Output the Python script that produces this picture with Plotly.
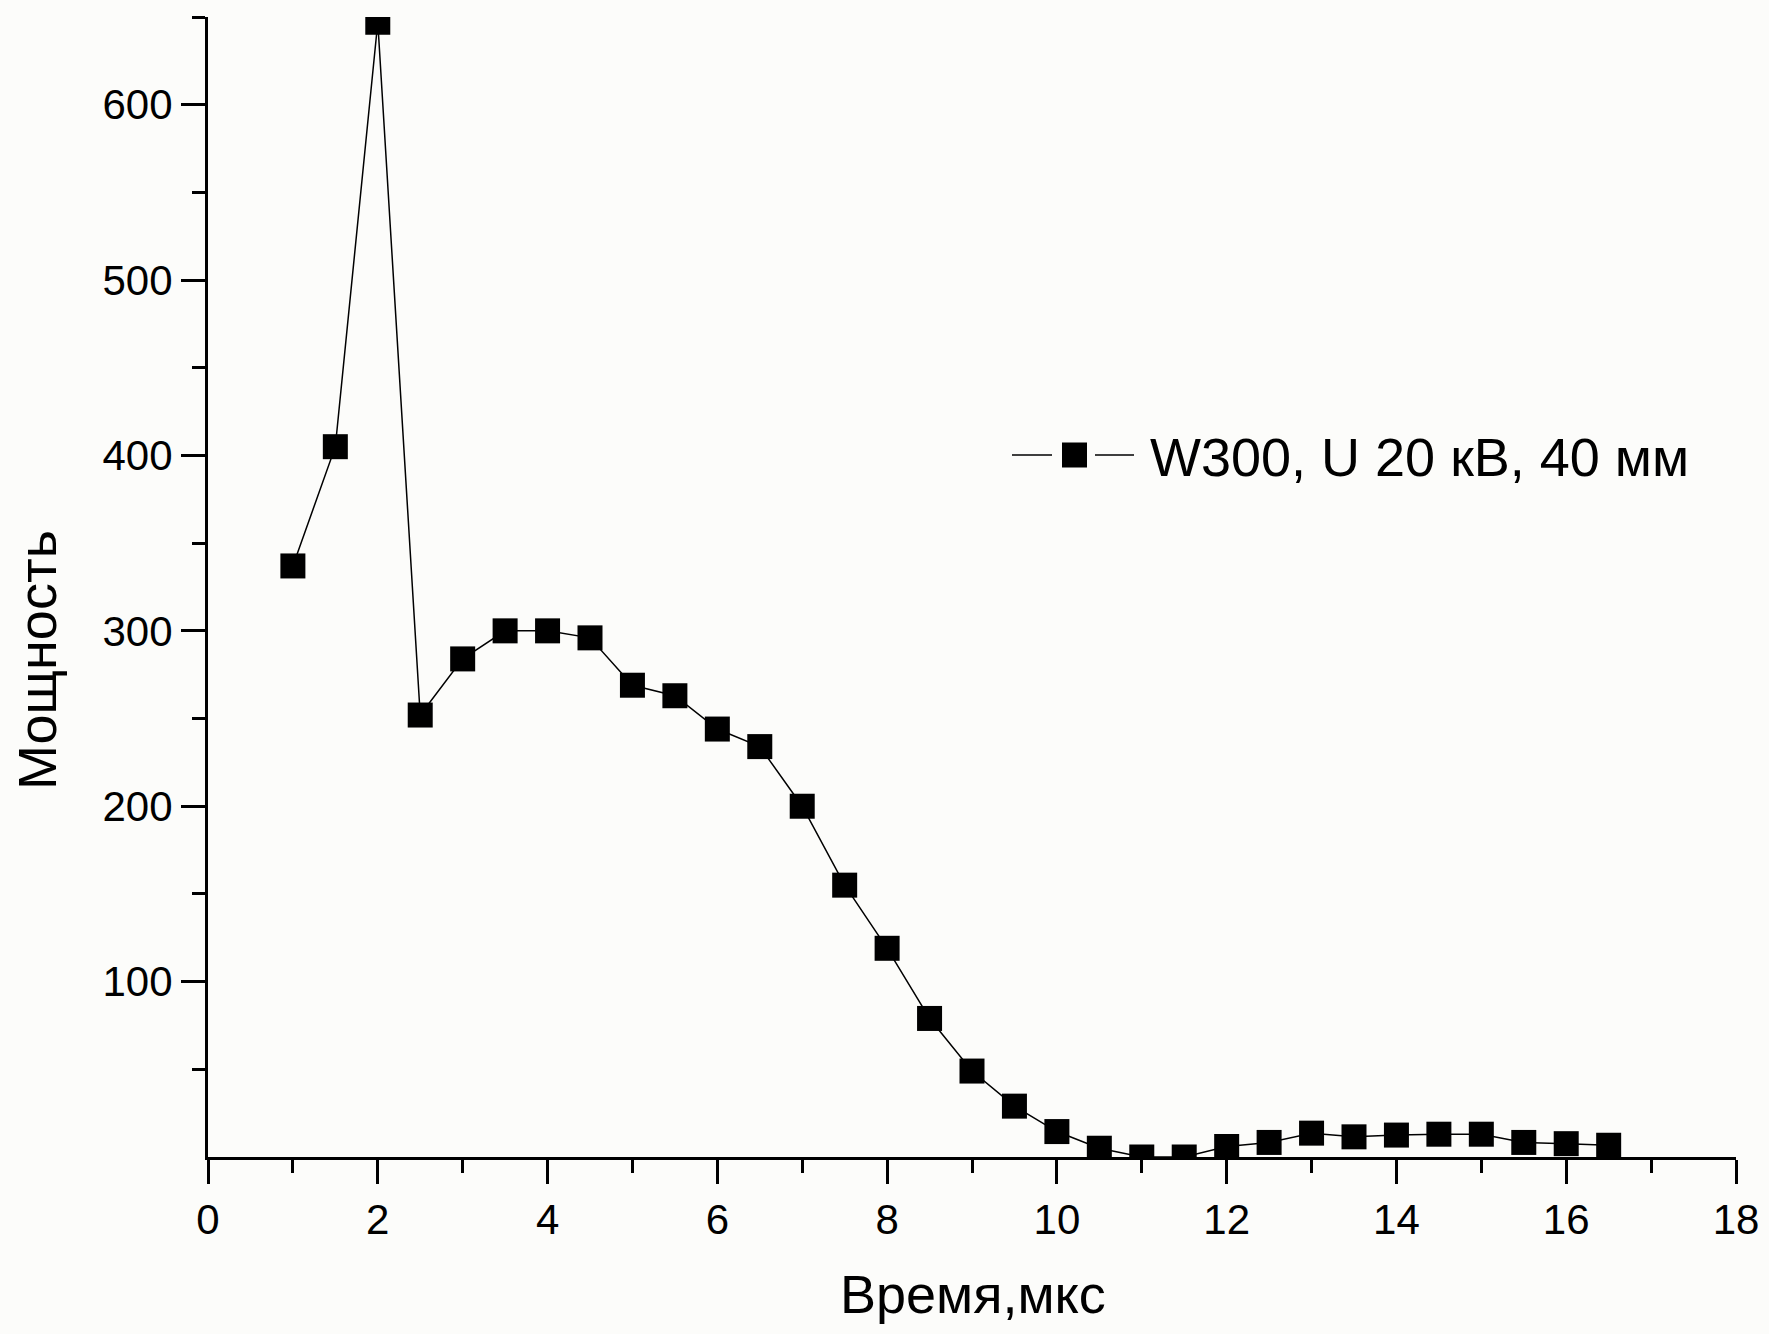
import plotly.graph_objects as go

# Data
time_us = [1, 1.5, 2, 2.5, 3, 3.5, 4, 4.5, 5, 5.5, 6, 6.5, 7, 7.5, 8, 8.5, 9, 9.5,
           10, 10.5, 11, 11.5, 12, 12.5, 13, 13.5, 14, 14.5, 15, 15.5, 16, 16.5]
power = [337, 405, 647, 252, 284, 300, 300, 296, 269, 263, 244, 234, 200, 155, 119, 79, 49, 29,
         14.5, 5, 0, 0, 6, 8.3, 13.6, 11.5, 12.5, 13, 13, 8.3, 7.6, 6.7]

series_name = "W300, U 20 кВ, 40 мм"
x_title = "Время,мкс"
y_title = "Мощность"

x_major = [0, 2, 4, 6, 8, 10, 12, 14, 16, 18]
x_minor = [1, 3, 5, 7, 9, 11, 13, 15, 17]
y_major = [100, 200, 300, 400, 500, 600]
y_minor = [50, 150, 250, 350, 450, 550, 650]

FONT = "Liberation Sans, Arial, sans-serif"
BG = "#fcfcfa"

W, H = 1769, 1334
L, R, T, B = 208, 33, 17, 177
pw, ph = W - L - R, H - T - B


def px_x(p):
    return (p - L) / pw


def px_y(p):
    return (H - B - p) / ph


fig = go.Figure()
fig.add_trace(go.Scatter(
    x=time_us, y=power, mode="lines+markers", name=series_name,
    line=dict(color="black", width=1.5),
    marker=dict(symbol="square", size=25, color="black"),
    showlegend=False,
))

axis_common = dict(
    showgrid=False, zeroline=False, showline=True, linecolor="black", linewidth=3,
    ticks="outside", tickcolor="black", tickwidth=3, ticklen=24,
    tickfont=dict(family=FONT, size=42, color="black"),
    mirror=False, automargin=False,
)

fig.update_xaxes(
    range=[0, 18], tickmode="array", tickvals=x_major,
    ticktext=[str(v) for v in x_major],
    minor=dict(tickmode="array", tickvals=x_minor, ticks="outside", ticklen=13,
               tickwidth=3, tickcolor="black"),
    **axis_common,
)
fig.update_yaxes(
    range=[0, 650], tickmode="array", tickvals=y_major,
    ticktext=[str(v) for v in y_major],
    minor=dict(tickmode="array", tickvals=y_minor, ticks="outside", ticklen=13,
               tickwidth=3, tickcolor="black"),
    **axis_common,
)

fig.add_annotation(
    text=y_title, xref="paper", yref="paper",
    x=px_x(37), y=px_y(660),
    showarrow=False, textangle=-90, xanchor="center", yanchor="middle",
    font=dict(family=FONT, size=54, color="black"),
)
fig.add_annotation(
    text=x_title, xref="paper", yref="paper",
    x=px_x(973), y=px_y(1294),
    showarrow=False, xanchor="center", yanchor="middle",
    font=dict(family=FONT, size=54, color="black"),
)

# Legend (Origin style: line - square - line, then label)
leg_y = 455
fig.add_shape(type="line", xref="paper", yref="paper",
              x0=px_x(1012), x1=px_x(1052), y0=px_y(leg_y), y1=px_y(leg_y),
              line=dict(color="black", width=1.5))
fig.add_shape(type="line", xref="paper", yref="paper",
              x0=px_x(1095), x1=px_x(1134), y0=px_y(leg_y), y1=px_y(leg_y),
              line=dict(color="black", width=1.5))
fig.add_shape(type="rect", xref="paper", yref="paper",
              x0=px_x(1062), x1=px_x(1087), y0=px_y(leg_y - 12.5), y1=px_y(leg_y + 12.5),
              line=dict(width=0), fillcolor="black")
fig.add_annotation(
    text=series_name, xref="paper", yref="paper",
    x=px_x(1148), y=px_y(leg_y + 2), xanchor="left", yanchor="middle",
    showarrow=False, font=dict(family=FONT, size=54, color="black"),
)

fig.update_layout(
    width=W, height=H,
    margin=dict(l=L, r=R, t=T, b=B),
    paper_bgcolor=BG, plot_bgcolor=BG,
    showlegend=False,
)

fig.write_html(
    "out.html",
    config={"displayModeBar": False},
    post_script="document.body.style.margin='0';document.body.style.overflow='hidden';"
                "document.body.style.background='" + BG + "';",
)
